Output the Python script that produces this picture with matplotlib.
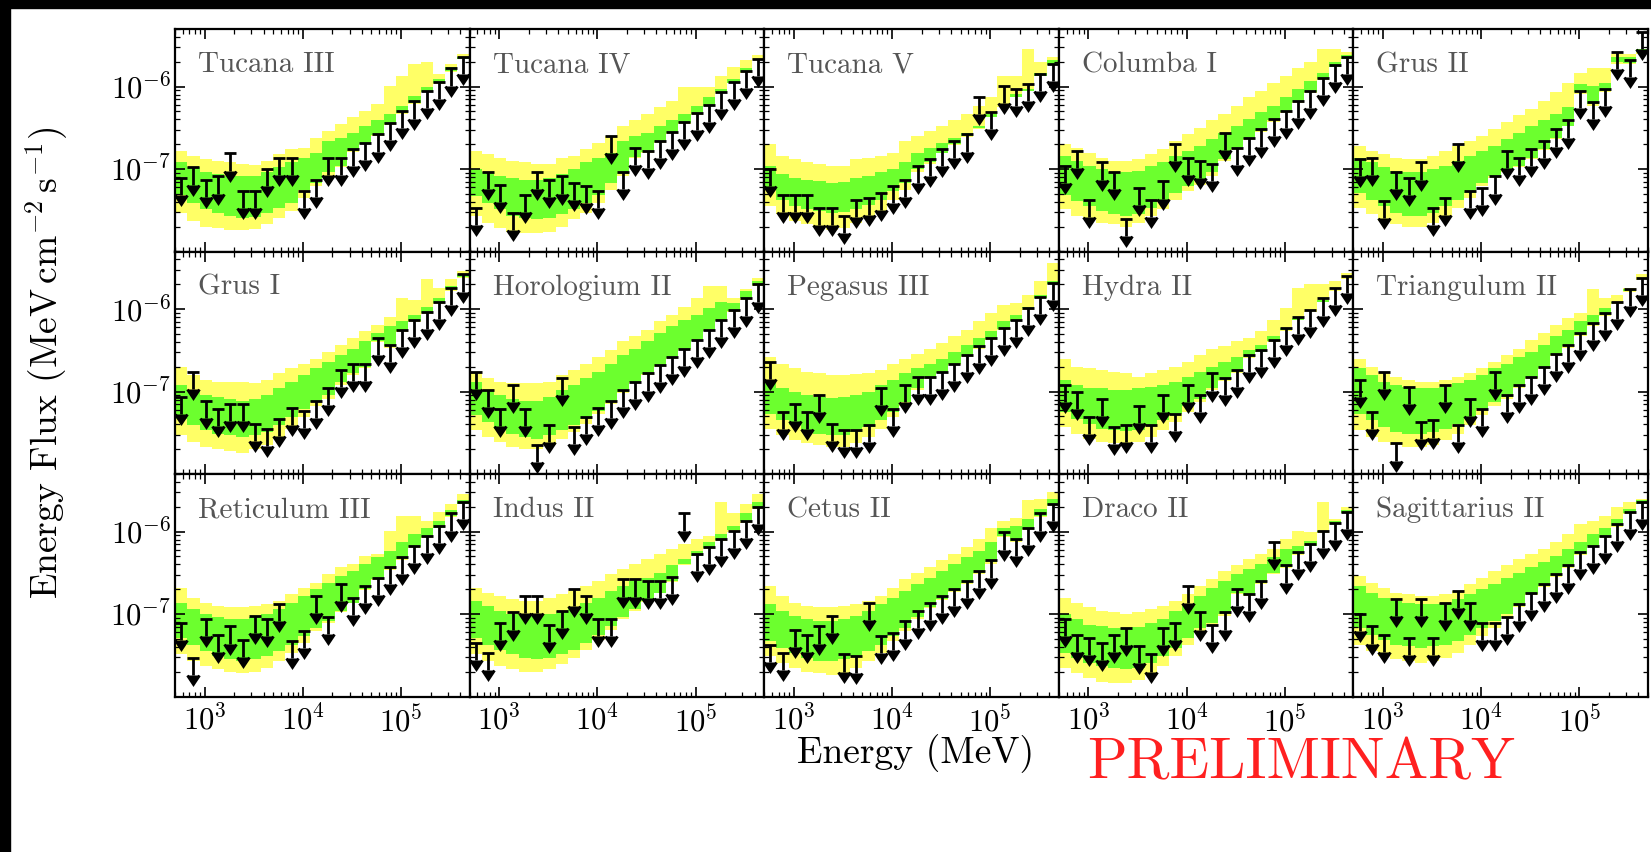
import numpy as np
import matplotlib
matplotlib.use('Agg')
import matplotlib.pyplot as plt
from matplotlib.patches import Rectangle

plt.rcParams['font.family'] = 'cmr10'
plt.rcParams['mathtext.fontset'] = 'cm'
plt.rcParams['axes.formatter.use_mathtext'] = True

# energy binning (MeV), 8 bins per decade
e_edges = [500, 667, 889, 1186, 1581, 2108, 2812, 3750, 5000, 6668, 8891, 11857,
           15811, 21085, 28117, 37495, 50000, 66676, 88914, 118569, 158114,
           210848, 281171, 374947, 500000]
e_centers = [577, 770, 1027, 1369, 1826, 2435, 3247, 4330, 5774, 7700, 10268,
             13693, 18260, 24350, 32470, 43301, 57735, 76993, 102673, 136917,
             182585, 243485, 324700, 433000]

dwarfs = ['Tucana III', 'Tucana IV', 'Tucana V', 'Columba I', 'Grus II',
          'Grus I', 'Horologium II', 'Pegasus III', 'Hydra II', 'Triangulum II',
          'Reticulum III', 'Indus II', 'Cetus II', 'Draco II', 'Sagittarius II']

# log10 of the 95% upper limits (MeV cm^-2 s^-1)
log_ul = {
    'Tucana III': [-7.11, -6.98, -7.13, -7.09, -6.81, -7.27, -7.27, -7.00, -6.86, -6.86, -7.27, -7.13,
                   -6.87, -6.86, -6.76, -6.68, -6.58, -6.44, -6.30, -6.18, -6.05, -5.94, -5.78, -5.64],
    'Tucana IV': [-7.47, -7.04, -7.19, -7.53, -7.31, -7.04, -7.13, -7.09, -7.17, -7.21, -7.27, -6.60,
                  -7.04, -6.74, -6.78, -6.66, -6.55, -6.43, -6.32, -6.22, -6.06, -5.94, -5.81, -5.66],
    'Tucana V': [-7.00, -7.31, -7.31, -7.31, -7.47, -7.47, -7.57, -7.37, -7.35, -7.29, -7.21, -7.13,
                 -6.96, -6.88, -6.76, -6.66, -6.58, -6.13, -6.31, -5.99, -6.03, -5.97, -5.85, -5.72],
    'Columba I': [-6.96, -6.78, -7.37, -6.92, -7.04, -7.61, -7.23, -7.37, -7.15, -6.70, -6.86, -6.90,
                  -6.94, -6.56, -6.74, -6.62, -6.52, -6.39, -6.29, -6.17, -6.05, -5.89, -5.74, -5.64],
    'Grus II': [-6.88, -6.86, -7.39, -7.04, -7.11, -6.92, -7.47, -7.35, -6.70, -7.27, -7.23, -7.09,
                -6.78, -6.86, -6.76, -6.66, -6.52, -6.41, -6.05, -6.19, -6.03, -5.58, -5.68, -5.34],
    'Grus I': [-7.06, -6.76, -7.11, -7.21, -7.15, -7.15, -7.39, -7.45, -7.33, -7.20, -7.23, -7.11,
               -6.96, -6.74, -6.66, -6.66, -6.35, -6.43, -6.25, -6.13, -6.03, -5.91, -5.74, -5.58],
    'Horologium II': [-6.76, -6.98, -7.21, -6.92, -7.21, -7.65, -7.41, -6.84, -7.43, -7.31, -7.20, -7.11,
                      -6.98, -6.88, -6.78, -6.68, -6.58, -6.48, -6.37, -6.25, -6.13, -6.01, -5.87, -5.70],
    'Pegasus III': [-6.64, -7.25, -7.15, -7.25, -7.04, -7.39, -7.47, -7.47, -7.41, -6.96, -7.21, -6.92,
                    -6.82, -6.82, -6.76, -6.66, -6.56, -6.45, -6.35, -6.23, -6.13, -5.99, -5.85, -5.68],
    'Hydra II': [-6.92, -7.00, -7.31, -7.09, -7.43, -7.41, -7.17, -7.41, -7.04, -7.27, -6.92, -7.04,
                 -6.78, -6.84, -6.74, -6.56, -6.50, -6.37, -6.23, -6.09, -6.01, -5.87, -5.74, -5.60],
    'Triangulum II': [-6.86, -7.25, -6.76, -7.63, -6.94, -7.37, -7.35, -6.92, -7.41, -7.09, -7.21, -6.76,
                      -7.04, -6.92, -6.82, -6.70, -6.54, -6.43, -6.29, -6.17, -6.05, -5.91, -5.76, -5.62],
    'Reticulum III': [-7.11, -7.53, -7.06, -7.25, -7.15, -7.31, -7.02, -7.06, -6.88, -7.33, -7.21, -6.78,
                      -7.04, -6.64, -6.80, -6.66, -6.56, -6.43, -6.31, -6.17, -6.05, -5.93, -5.78, -5.64],
    'Indus II': [-7.35, -7.47, -7.11, -6.98, -6.78, -6.78, -7.13, -6.96, -6.70, -6.78, -7.06, -7.06,
                 -6.58, -6.58, -6.60, -6.60, -6.55, -5.78, -6.27, -6.19, -6.09, -5.99, -5.87, -5.70],
    'Cetus II': [-7.37, -7.47, -7.19, -7.25, -7.15, -7.02, -7.49, -7.51, -6.86, -7.27, -7.23, -7.09,
                 -6.96, -6.86, -6.78, -6.70, -6.60, -6.48, -6.35, -6.01, -6.09, -5.95, -5.78, -5.66],
    'Draco II': [-7.06, -7.25, -7.29, -7.35, -7.25, -7.17, -7.39, -7.49, -7.17, -7.11, -6.66, -6.98,
                 -7.13, -6.98, -6.70, -6.76, -6.60, -6.13, -6.41, -6.25, -6.15, -5.99, -5.89, -5.76],
    'Sagittarius II': [-7.00, -7.15, -7.25, -6.82, -7.29, -6.82, -7.29, -6.86, -6.72, -6.86, -7.11, -7.11,
                       -7.04, -6.88, -6.74, -6.64, -6.52, -6.41, -6.25, -6.17, -6.05, -5.91, -5.76, -5.64],
}

# expected limits from blank fields: 95% containment (yellow), 68% (green)
log_band95_hi = {
    'Tucana III': [-6.78, -6.84, -6.88, -6.90, -6.92, -6.94, -6.95, -6.90, -6.82, -6.76, -6.74, -6.62,
                   -6.54, -6.45, -6.37, -6.29, -6.21, -5.99, -5.87, -5.72, -5.70, -5.85, -5.72, -5.60],
    'Tucana IV': [-6.78, -6.82, -6.86, -6.90, -6.92, -6.94, -6.94, -6.86, -6.84, -6.76, -6.68, -6.60,
                  -6.48, -6.41, -6.33, -6.25, -6.17, -6.01, -6.01, -6.01, -5.87, -5.76, -5.68, -5.62],
    'Tucana V': [-6.70, -6.84, -6.88, -6.92, -6.94, -6.96, -6.96, -6.88, -6.86, -6.84, -6.80, -6.66,
                 -6.60, -6.54, -6.48, -6.41, -6.33, -6.23, -6.13, -5.87, -5.87, -5.54, -5.70, -5.64],
    'Columba I': [-6.70, -6.74, -6.80, -6.86, -6.90, -6.90, -6.88, -6.82, -6.76, -6.66, -6.58, -6.50,
                  -6.41, -6.33, -6.23, -6.13, -6.05, -5.95, -5.87, -5.78, -5.70, -5.54, -5.54, -5.58],
    'Grus II': [-6.72, -6.78, -6.82, -6.86, -6.88, -6.88, -6.84, -6.78, -6.72, -6.66, -6.60, -6.52,
                -6.43, -6.35, -6.27, -6.17, -6.07, -5.95, -5.83, -5.78, -5.78, -5.60, -5.60, -5.58],
    'Grus I': [-6.70, -6.80, -6.86, -6.88, -6.88, -6.89, -6.90, -6.86, -6.78, -6.72, -6.66, -6.60,
               -6.52, -6.43, -6.35, -6.27, -6.19, -6.09, -5.87, -5.89, -5.64, -5.74, -5.64, -5.54],
    'Horologium II': [-6.78, -6.84, -6.88, -6.90, -6.90, -6.90, -6.88, -6.80, -6.74, -6.66, -6.58, -6.50,
                      -6.39, -6.33, -6.25, -6.15, -6.07, -5.97, -5.87, -5.72, -5.72, -5.87, -5.76, -5.62],
    'Pegasus III': [-6.58, -6.66, -6.72, -6.76, -6.78, -6.80, -6.80, -6.79, -6.78, -6.74, -6.66, -6.60,
                    -6.54, -6.48, -6.41, -6.33, -6.25, -6.15, -6.05, -5.95, -5.93, -5.83, -5.66, -5.44],
    'Hydra II': [-6.60, -6.70, -6.72, -6.74, -6.76, -6.78, -6.82, -6.78, -6.74, -6.70, -6.64, -6.56,
                 -6.48, -6.45, -6.39, -6.35, -6.27, -6.13, -5.99, -5.74, -5.70, -5.70, -5.66, -5.56],
    'Triangulum II': [-6.60, -6.70, -6.76, -6.82, -6.86, -6.88, -6.88, -6.86, -6.82, -6.78, -6.72, -6.64,
                      -6.56, -6.48, -6.37, -6.29, -6.19, -6.11, -6.05, -5.76, -5.87, -5.83, -5.74, -5.58],
    'Reticulum III': [-6.68, -6.80, -6.86, -6.90, -6.92, -6.92, -6.90, -6.88, -6.84, -6.76, -6.68, -6.62,
                      -6.52, -6.43, -6.39, -6.29, -6.27, -5.99, -5.81, -5.81, -5.87, -5.76, -5.66, -5.54],
    'Indus II': [-6.68, -6.74, -6.78, -6.82, -6.84, -6.84, -6.80, -6.76, -6.72, -6.66, -6.60, -6.52,
                 -6.45, -6.39, -6.33, -6.27, -6.21, -6.15, -6.09, -6.05, -5.64, -5.78, -5.66, -5.54],
    'Cetus II': [-6.66, -6.78, -6.86, -6.90, -6.92, -6.92, -6.90, -6.88, -6.84, -6.78, -6.68, -6.58,
                 -6.50, -6.43, -6.35, -6.27, -6.19, -6.09, -5.95, -5.87, -5.83, -5.62, -5.60, -5.52],
    'Draco II': [-6.80, -6.86, -6.92, -6.96, -6.98, -7.00, -6.98, -6.94, -6.90, -6.84, -6.76, -6.66,
                 -6.58, -6.48, -6.41, -6.33, -6.27, -6.21, -6.09, -5.99, -6.01, -5.64, -5.85, -5.70],
    'Sagittarius II': [-6.54, -6.62, -6.68, -6.74, -6.76, -6.78, -6.78, -6.76, -6.72, -6.64, -6.56, -6.48,
                       -6.41, -6.33, -6.27, -6.21, -6.13, -6.03, -5.91, -5.87, -5.81, -5.70, -5.64, -5.60],
}
log_band68_hi = {
    'Tucana III': [-6.92, -6.98, -7.04, -7.06, -7.09, -7.09, -7.09, -7.04, -6.98, -6.92, -6.86, -6.80,
                   -6.66, -6.62, -6.56, -6.48, -6.41, -6.33, -6.23, -6.11, -6.01, -5.91, -5.76, -5.64],
    'Tucana IV': [-7.00, -7.04, -7.09, -7.11, -7.13, -7.13, -7.11, -7.06, -7.00, -6.92, -6.86, -6.80,
                  -6.66, -6.60, -6.56, -6.48, -6.41, -6.33, -6.23, -6.13, -6.03, -5.91, -5.78, -5.66],
    'Tucana V': [-6.96, -7.06, -7.11, -7.13, -7.15, -7.17, -7.16, -7.11, -7.08, -7.04, -7.00, -6.92,
                 -6.80, -6.74, -6.68, -6.62, -6.56, -6.48, -6.37, -6.23, -6.13, -6.05, -5.83, -5.68],
    'Columba I': [-6.84, -6.90, -6.96, -7.00, -7.04, -7.04, -7.02, -6.96, -6.92, -6.84, -6.78, -6.72,
                  -6.64, -6.56, -6.48, -6.39, -6.31, -6.23, -6.13, -6.03, -5.93, -5.83, -5.70, -5.62],
    'Grus II': [-6.86, -6.92, -6.98, -7.02, -7.04, -7.04, -7.00, -6.96, -6.90, -6.84, -6.78, -6.72,
                -6.64, -6.56, -6.48, -6.41, -6.33, -6.25, -5.97, -5.99, -5.95, -5.64, -5.64, -5.54],
    'Grus I': [-6.92, -6.98, -7.04, -7.06, -7.09, -7.11, -7.09, -7.04, -6.96, -6.88, -6.80, -6.72,
               -6.64, -6.56, -6.48, -6.39, -6.29, -6.21, -6.15, -6.07, -5.97, -5.87, -5.72, -5.58],
    'Horologium II': [-6.88, -6.98, -7.04, -7.09, -7.11, -7.11, -7.06, -6.98, -6.92, -6.84, -6.76, -6.66,
                      -6.56, -6.48, -6.39, -6.29, -6.21, -6.13, -6.07, -5.99, -5.91, -5.93, -5.78, -5.66],
    'Pegasus III': [-6.88, -6.96, -7.00, -7.04, -7.06, -7.08, -7.06, -7.04, -7.00, -6.92, -6.86, -6.78,
                    -6.72, -6.66, -6.60, -6.52, -6.43, -6.35, -6.27, -6.15, -6.07, -5.97, -5.83, -5.66],
    'Hydra II': [-6.86, -6.92, -6.96, -6.96, -6.98, -6.98, -6.96, -6.94, -6.92, -6.88, -6.82, -6.76,
                 -6.70, -6.64, -6.58, -6.50, -6.43, -6.33, -6.23, -6.13, -6.03, -5.91, -5.76, -5.62],
    'Triangulum II': [-6.72, -6.80, -6.88, -6.92, -6.94, -6.96, -6.96, -6.94, -6.90, -6.86, -6.80, -6.72,
                      -6.66, -6.58, -6.52, -6.43, -6.33, -6.25, -6.15, -6.07, -5.99, -5.91, -5.76, -5.64],
    'Reticulum III': [-6.86, -6.94, -7.00, -7.04, -7.06, -7.06, -7.04, -7.00, -6.94, -6.86, -6.78, -6.70,
                      -6.62, -6.54, -6.48, -6.39, -6.31, -6.23, -6.13, -6.03, -5.95, -5.87, -5.74, -5.62],
    'Indus II': [-6.84, -6.90, -6.96, -7.00, -7.02, -7.02, -7.00, -6.96, -6.92, -6.86, -6.80, -6.72,
                 -6.66, -6.60, -6.56, -6.50, -6.41, -6.33, -6.23, -6.13, -6.03, -5.93, -5.78, -5.64],
    'Cetus II': [-6.88, -6.96, -7.02, -7.06, -7.09, -7.09, -7.06, -7.02, -6.96, -6.88, -6.80, -6.72,
                 -6.64, -6.56, -6.48, -6.39, -6.31, -6.23, -6.13, -5.95, -5.93, -5.85, -5.72, -5.60],
    'Draco II': [-7.00, -7.06, -7.13, -7.15, -7.17, -7.17, -7.16, -7.11, -7.06, -6.96, -6.88, -6.78,
                 -6.68, -6.60, -6.52, -6.45, -6.39, -6.31, -6.21, -6.17, -6.11, -5.99, -5.87, -5.74],
    'Sagittarius II': [-6.66, -6.74, -6.80, -6.84, -6.86, -6.88, -6.88, -6.86, -6.82, -6.76, -6.70, -6.64,
                       -6.56, -6.50, -6.43, -6.37, -6.29, -6.21, -6.13, -6.03, -5.95, -5.85, -5.72, -5.62],
}
log_band68_lo = {
    'Tucana III': [-7.31, -7.41, -7.49, -7.53, -7.57, -7.59, -7.58, -7.53, -7.47, -7.41, -7.25, -7.17,
                   -7.04, -6.96, -6.78, -6.69, -6.59, -6.45, -6.32, -6.20, -6.06, -5.96, -5.81, -5.66],
    'Tucana IV': [-7.33, -7.41, -7.49, -7.57, -7.59, -7.61, -7.59, -7.55, -7.49, -7.41, -7.31, -7.17,
                  -7.06, -6.85, -6.79, -6.67, -6.56, -6.44, -6.33, -6.23, -6.07, -5.95, -5.82, -5.67],
    'Tucana V': [-7.25, -7.37, -7.45, -7.49, -7.51, -7.53, -7.52, -7.48, -7.43, -7.37, -7.27, -7.17,
                 -7.00, -6.92, -6.80, -6.70, -6.60, -6.50, -6.33, -6.23, -6.09, -6.03, -5.87, -5.74],
    'Columba I': [-7.31, -7.39, -7.45, -7.51, -7.55, -7.57, -7.55, -7.47, -7.39, -7.29, -7.21, -7.13,
                  -7.04, -6.88, -6.76, -6.64, -6.54, -6.41, -6.31, -6.19, -6.07, -5.91, -5.76, -5.66],
    'Grus II': [-7.29, -7.37, -7.45, -7.53, -7.57, -7.57, -7.53, -7.45, -7.37, -7.29, -7.17, -7.09,
                -7.00, -6.96, -6.86, -6.76, -6.62, -6.48, -6.07, -6.21, -6.05, -5.70, -5.71, -5.58],
    'Grus I': [-7.33, -7.41, -7.47, -7.51, -7.53, -7.55, -7.53, -7.49, -7.41, -7.31, -7.21, -7.13,
               -7.04, -6.88, -6.78, -6.70, -6.39, -6.45, -6.27, -6.15, -6.05, -5.93, -5.76, -5.61],
    'Horologium II': [-7.29, -7.37, -7.45, -7.51, -7.55, -7.57, -7.53, -7.47, -7.41, -7.33, -7.23, -7.13,
                      -7.00, -6.89, -6.79, -6.69, -6.59, -6.48, -6.39, -6.26, -6.14, -6.02, -5.87, -5.71],
    'Pegasus III': [-7.27, -7.35, -7.41, -7.47, -7.51, -7.53, -7.53, -7.49, -7.43, -7.35, -7.25, -7.13,
                    -6.96, -6.84, -6.77, -6.67, -6.57, -6.47, -6.36, -6.24, -6.14, -5.99, -5.86, -5.70],
    'Hydra II': [-7.25, -7.33, -7.39, -7.45, -7.47, -7.48, -7.47, -7.41, -7.35, -7.27, -7.17, -7.09,
                 -6.96, -6.86, -6.76, -6.58, -6.52, -6.39, -6.25, -6.11, -6.03, -5.89, -5.76, -5.62],
    'Triangulum II': [-7.27, -7.35, -7.43, -7.49, -7.51, -7.51, -7.49, -7.45, -7.39, -7.31, -7.21, -7.13,
                      -7.06, -6.94, -6.84, -6.72, -6.56, -6.45, -6.31, -6.19, -6.07, -5.93, -5.78, -5.64],
    'Reticulum III': [-7.29, -7.37, -7.45, -7.51, -7.55, -7.57, -7.55, -7.51, -7.45, -7.37, -7.27, -7.17,
                      -7.09, -6.96, -6.86, -6.70, -6.58, -6.45, -6.33, -6.19, -6.07, -5.95, -5.81, -5.66],
    'Indus II': [-7.29, -7.37, -7.43, -7.49, -7.53, -7.55, -7.53, -7.49, -7.43, -7.35, -7.25, -7.15,
                 -7.04, -6.94, -6.84, -6.74, -6.60, -6.39, -6.29, -6.20, -6.10, -5.98, -5.87, -5.71],
    'Cetus II': [-7.33, -7.41, -7.47, -7.53, -7.57, -7.57, -7.55, -7.51, -7.45, -7.37, -7.27, -7.17,
                 -7.04, -6.92, -6.82, -6.72, -6.62, -6.50, -6.37, -6.05, -6.11, -5.97, -5.81, -5.68],
    'Draco II': [-7.47, -7.53, -7.59, -7.63, -7.65, -7.67, -7.65, -7.59, -7.51, -7.41, -7.29, -7.17,
                 -7.11, -7.00, -6.74, -6.77, -6.62, -6.50, -6.43, -6.27, -6.17, -6.01, -5.90, -5.78],
    'Sagittarius II': [-7.17, -7.25, -7.31, -7.37, -7.39, -7.41, -7.39, -7.37, -7.33, -7.25, -7.17, -7.09,
                       -7.00, -6.90, -6.76, -6.66, -6.54, -6.43, -6.27, -6.18, -6.07, -5.93, -5.78, -5.66],
}
log_band95_lo = {
    'Tucana III': [-7.53, -7.63, -7.70, -7.72, -7.74, -7.74, -7.73, -7.67, -7.59, -7.51, -7.35, -7.21,
                   -7.09, -6.98, -6.79, -6.70, -6.60, -6.47, -6.33, -6.21, -6.07, -5.97, -5.82, -5.67],
    'Tucana IV': [-7.57, -7.65, -7.72, -7.76, -7.78, -7.78, -7.76, -7.70, -7.61, -7.53, -7.41, -7.25,
                  -7.09, -6.86, -6.80, -6.68, -6.57, -6.45, -6.34, -6.24, -6.08, -5.96, -5.83, -5.68],
    'Tucana V': [-7.45, -7.55, -7.63, -7.67, -7.70, -7.74, -7.72, -7.65, -7.59, -7.51, -7.37, -7.25,
                 -7.04, -6.94, -6.81, -6.71, -6.61, -6.52, -6.35, -6.25, -6.10, -6.04, -5.87, -5.74],
    'Columba I': [-7.49, -7.57, -7.61, -7.65, -7.67, -7.70, -7.65, -7.57, -7.49, -7.37, -7.27, -7.19,
                  -7.09, -6.90, -6.77, -6.65, -6.55, -6.43, -6.32, -6.20, -6.08, -5.92, -5.76, -5.67],
    'Grus II': [-7.47, -7.55, -7.63, -7.67, -7.70, -7.70, -7.65, -7.57, -7.47, -7.35, -7.21, -7.11,
                -7.04, -6.98, -6.88, -6.77, -6.63, -6.48, -6.09, -6.23, -6.07, -5.72, -5.72, -5.60],
    'Grus I': [-7.53, -7.61, -7.67, -7.70, -7.72, -7.74, -7.70, -7.65, -7.57, -7.45, -7.31, -7.17,
               -7.09, -6.92, -6.80, -6.72, -6.40, -6.47, -6.28, -6.16, -6.06, -5.94, -5.78, -5.62],
    'Horologium II': [-7.47, -7.55, -7.61, -7.67, -7.70, -7.70, -7.65, -7.57, -7.49, -7.39, -7.27, -7.15,
                      -7.02, -6.90, -6.80, -6.70, -6.60, -6.50, -6.39, -6.27, -6.15, -6.03, -5.89, -5.72],
    'Pegasus III': [-7.45, -7.53, -7.59, -7.63, -7.65, -7.67, -7.67, -7.63, -7.55, -7.45, -7.31, -7.17,
                    -6.98, -6.85, -6.78, -6.68, -6.58, -6.48, -6.37, -6.25, -6.15, -6.01, -5.87, -5.70],
    'Hydra II': [-7.43, -7.51, -7.57, -7.61, -7.63, -7.63, -7.61, -7.55, -7.47, -7.37, -7.25, -7.13,
                 -6.98, -6.87, -6.77, -6.59, -6.52, -6.40, -6.26, -6.12, -6.04, -5.90, -5.78, -5.63],
    'Triangulum II': [-7.47, -7.55, -7.61, -7.65, -7.67, -7.67, -7.65, -7.59, -7.51, -7.41, -7.29, -7.17,
                      -7.09, -6.96, -6.85, -6.73, -6.57, -6.47, -6.32, -6.20, -6.08, -5.94, -5.79, -5.65],
    'Reticulum III': [-7.49, -7.57, -7.63, -7.67, -7.70, -7.72, -7.70, -7.65, -7.57, -7.47, -7.35, -7.21,
                      -7.11, -6.98, -6.87, -6.71, -6.59, -6.47, -6.35, -6.20, -6.08, -5.96, -5.82, -5.67],
    'Indus II': [-7.49, -7.57, -7.63, -7.67, -7.70, -7.70, -7.67, -7.61, -7.53, -7.43, -7.31, -7.19,
                 -7.06, -6.96, -6.85, -6.75, -6.61, -6.41, -6.30, -6.21, -6.11, -6.01, -5.89, -5.72],
    'Cetus II': [-7.51, -7.59, -7.65, -7.70, -7.72, -7.74, -7.72, -7.65, -7.57, -7.47, -7.33, -7.21,
                 -7.06, -6.93, -6.83, -6.73, -6.63, -6.51, -6.39, -6.07, -6.12, -5.98, -5.82, -5.69],
    'Draco II': [-7.65, -7.72, -7.78, -7.82, -7.84, -7.84, -7.80, -7.74, -7.63, -7.51, -7.37, -7.21,
                 -7.13, -7.02, -6.76, -6.78, -6.63, -6.52, -6.44, -6.28, -6.18, -6.02, -5.91, -5.78],
    'Sagittarius II': [-7.37, -7.45, -7.51, -7.55, -7.57, -7.59, -7.57, -7.53, -7.47, -7.37, -7.27, -7.17,
                       -7.04, -6.92, -6.77, -6.67, -6.55, -6.44, -6.28, -6.19, -6.08, -5.94, -5.79, -5.67],
}

band95_color = '#ffff66'
band68_color = '#6cff2e'

fig, axes = plt.subplots(3, 5, sharex=True, sharey=True, figsize=(16.51, 8.52), dpi=100)
fig.subplots_adjust(left=175/1651, right=1648/1651, top=1-29/852, bottom=1-696.5/852,
                    wspace=0, hspace=0)

for ax, name in zip(axes.flat, dwarfs):
    ul = 10**np.array(log_ul[name])
    # repeat last value so the step fill reaches the last edge
    y2lo = 10**np.append(log_band95_lo[name], log_band95_lo[name][-1])
    y2hi = 10**np.append(log_band95_hi[name], log_band95_hi[name][-1])
    y1lo = 10**np.append(log_band68_lo[name], log_band68_lo[name][-1])
    y1hi = 10**np.append(log_band68_hi[name], log_band68_hi[name][-1])

    ax.fill_between(e_edges, y2lo, y2hi, step='post', color=band95_color, lw=0)
    ax.fill_between(e_edges, y1lo, y1hi, step='post', color=band68_color, lw=0)
    ax.errorbar(e_centers, ul, yerr=0.38*ul, uplims=True, fmt='none', color='black',
                ecolor='black', elinewidth=2.0, capsize=4.5, capthick=2.0)

    ax.text(0.078, 0.806, name, transform=ax.transAxes, fontsize=21, color='#555555',
            va='baseline', ha='left')

    ax.set_xscale('log')
    ax.set_yscale('log')
    ax.set_xlim(500, 5e5)
    ax.set_ylim(1e-8, 5e-6)
    ax.set_yticks([1e-7, 1e-6])
    ax.set_xticks([1e3, 1e4, 1e5])
    ax.tick_params(which='both', direction='in', top=True, right=True, labelsize=22)
    ax.tick_params(which='major', length=7, width=1.2, pad=6)
    ax.tick_params(axis='y', which='major', pad=3)
    ax.tick_params(which='minor', length=3.5, width=0.9)
    for sp in ax.spines.values():
        sp.set_linewidth(1.6)

fig.text(47/1651, 1-362.75/852, r'Energy Flux $(\mathrm{MeV\,cm^{-2}\,s^{-1}})$',
         rotation=90, ha='center', va='center', fontsize=27)
fig.text(916/1651, 1-754/852, 'Energy (MeV)', ha='center', va='center', fontsize=27)
fig.text(1301/1651, 1-764/852, 'PRELIMINARY', ha='center', va='center', fontsize=42,
         color='#ff2020')

# dark border left in the screenshot
fig.add_artist(Rectangle((0, 1-8/852), 1, 8/852, transform=fig.transFigure,
                         color='black', zorder=10))
fig.add_artist(Rectangle((0, 0), 10/1651, 1, transform=fig.transFigure,
                         color='black', zorder=10))

fig.savefig('out.png', dpi=100)
